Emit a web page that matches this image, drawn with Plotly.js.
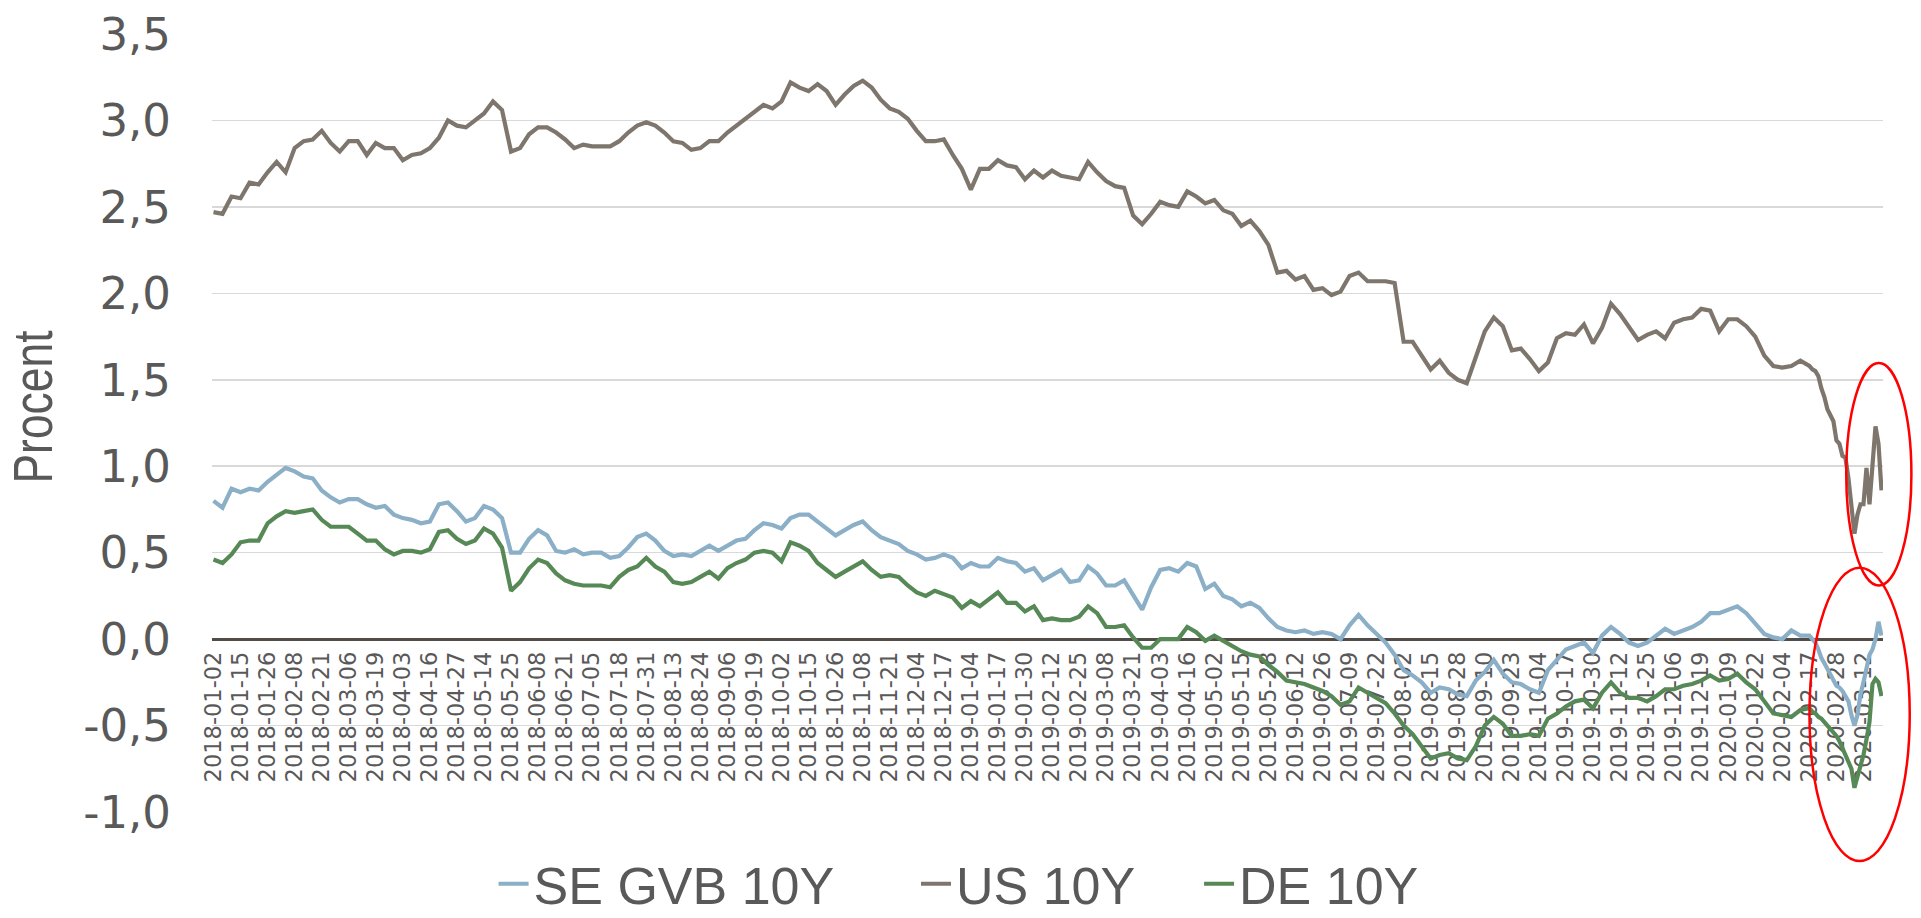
<!DOCTYPE html>
<html>
<head>
<meta charset="utf-8">
<script src="https://cdn.plot.ly/plotly-3.0.1.min.js"></script>
<style>
  html, body { margin: 0; padding: 0; background: #ffffff; }
  #chart { width: 1921px; height: 918px; }
</style>
</head>
<body>
<div id="chart"></div>
<script>
// Trading-day index (Swedish trading days from 2018-01-02) of each reading
const dayIndex = [
  0,3,6,9,12,15,18,21,24,27,30,33,36,39,42,45,48,51,54,57,60,63,66,69,72,75,78,81,84,87,90,
  93,96,99,102,105,108,111,114,117,120,123,126,129,132,135,138,141,144,147,150,153,156,159,162,165,168,171,174,177,180,
  183,186,189,192,195,198,201,204,207,210,213,216,219,222,225,228,231,234,237,240,243,246,249,252,255,258,261,264,267,270,
  273,276,279,282,285,288,291,294,297,300,303,306,309,312,315,318,321,324,327,330,333,336,339,342,345,348,351,354,357,360,
  363,366,369,372,375,378,381,384,387,390,393,396,399,402,405,408,411,414,417,420,423,426,429,432,435,438,441,444,447,450,
  453,456,459,462,465,468,471,474,477,480,483,486,489,492,495,498,501,504,507,510,513,516,519,522,525,528,
  531,532,533,534,535,536,537,538,539,540,541,542,543,544,545,546,547,548,549,550,551,552,553,554,555
];

const seGvb10y = [
  0.80,0.76,0.87,0.85,0.87,0.86,0.91,0.95,0.99,0.97,0.94,0.93,0.86,0.82,0.79,0.81,0.81,0.78,0.76,0.77,0.72,0.70,0.69,0.67,0.68,0.78,0.79,0.74,0.68,0.70,0.77,
  0.75,0.70,0.50,0.50,0.58,0.63,0.60,0.51,0.50,0.52,0.49,0.50,0.50,0.47,0.48,0.53,0.59,0.61,0.57,0.51,0.48,0.49,0.48,0.51,0.54,0.51,0.54,0.57,0.58,0.63,
  0.67,0.66,0.64,0.70,0.72,0.72,0.68,0.64,0.60,0.63,0.66,0.68,0.63,0.59,0.57,0.55,0.51,0.49,0.46,0.47,0.49,0.47,0.41,0.44,0.42,0.42,0.47,0.45,0.44,0.39,
  0.41,0.34,0.37,0.40,0.33,0.34,0.42,0.38,0.31,0.31,0.34,0.26,0.17,0.30,0.40,0.41,0.39,0.44,0.42,0.29,0.32,0.25,0.23,0.19,0.21,0.18,0.12,0.07,0.05,0.04,
  0.05,0.03,0.04,0.03,0.00,0.08,0.14,0.08,0.03,-0.02,-0.09,-0.18,-0.21,-0.25,-0.31,-0.28,-0.29,-0.32,-0.33,-0.24,-0.19,-0.12,-0.20,-0.25,-0.26,-0.29,-0.31,-0.18,-0.12,-0.06,
  -0.04,-0.02,-0.08,0.02,0.07,0.03,-0.02,-0.04,-0.02,0.02,0.06,0.03,0.05,0.07,0.10,0.15,0.15,0.17,0.19,0.15,0.09,0.03,0.01,0.00,0.05,0.02,
  0.02,0.00,-0.02,-0.06,-0.11,-0.14,-0.17,-0.20,-0.23,-0.27,-0.28,-0.30,-0.33,-0.36,-0.44,-0.50,-0.44,-0.32,-0.25,-0.18,-0.09,-0.06,0.00,0.10,0.02
];

const us10y = [
  2.47,2.46,2.56,2.55,2.64,2.63,2.70,2.76,2.70,2.84,2.88,2.89,2.94,2.87,2.82,2.88,2.88,2.80,2.87,2.84,2.84,2.77,2.80,2.81,2.84,2.90,3.00,2.97,2.96,3.00,3.04,
  3.11,3.06,2.82,2.84,2.92,2.96,2.96,2.93,2.89,2.84,2.86,2.85,2.85,2.85,2.88,2.93,2.97,2.99,2.97,2.93,2.88,2.87,2.83,2.84,2.88,2.88,2.93,2.97,3.01,3.05,
  3.09,3.07,3.11,3.22,3.19,3.17,3.21,3.17,3.09,3.15,3.20,3.23,3.19,3.12,3.07,3.05,3.01,2.94,2.88,2.88,2.89,2.80,2.72,2.60,2.72,2.72,2.77,2.74,2.73,2.66,
  2.71,2.67,2.71,2.68,2.67,2.66,2.76,2.70,2.65,2.62,2.61,2.45,2.40,2.46,2.53,2.51,2.50,2.59,2.56,2.52,2.54,2.48,2.46,2.39,2.42,2.36,2.28,2.12,2.13,2.08,
  2.10,2.02,2.03,1.99,2.01,2.10,2.12,2.07,2.07,2.07,2.06,1.72,1.72,1.64,1.56,1.61,1.54,1.50,1.48,1.63,1.78,1.86,1.81,1.67,1.68,1.62,1.55,1.60,1.74,1.77,
  1.76,1.82,1.71,1.80,1.94,1.88,1.81,1.73,1.76,1.78,1.74,1.83,1.85,1.86,1.91,1.90,1.78,1.85,1.85,1.81,1.75,1.64,1.58,1.57,1.58,1.61,
  1.58,1.56,1.55,1.52,1.45,1.40,1.33,1.30,1.26,1.15,1.13,1.06,1.05,0.93,0.78,0.61,0.72,0.78,0.78,0.99,0.78,0.99,1.23,1.13,0.86
];

const de10y = [
  0.46,0.44,0.49,0.56,0.57,0.57,0.67,0.71,0.74,0.73,0.74,0.75,0.69,0.65,0.65,0.65,0.61,0.57,0.57,0.52,0.49,0.51,0.51,0.50,0.52,0.62,0.63,0.58,0.55,0.57,0.64,
  0.61,0.53,0.28,0.33,0.41,0.46,0.44,0.38,0.34,0.32,0.31,0.31,0.31,0.30,0.36,0.40,0.42,0.47,0.42,0.39,0.33,0.32,0.33,0.36,0.39,0.35,0.41,0.44,0.46,0.50,
  0.51,0.50,0.45,0.56,0.54,0.51,0.44,0.40,0.36,0.39,0.42,0.45,0.40,0.36,0.37,0.36,0.31,0.27,0.25,0.28,0.26,0.24,0.18,0.22,0.19,0.23,0.27,0.21,0.21,0.16,
  0.19,0.11,0.12,0.11,0.11,0.13,0.19,0.15,0.07,0.07,0.08,0.01,-0.05,-0.05,0.00,0.00,0.00,0.07,0.04,-0.01,0.02,-0.01,-0.04,-0.07,-0.09,-0.10,-0.15,-0.19,-0.24,-0.25,
  -0.26,-0.28,-0.30,-0.33,-0.38,-0.36,-0.28,-0.31,-0.34,-0.37,-0.43,-0.50,-0.55,-0.62,-0.69,-0.67,-0.66,-0.69,-0.70,-0.62,-0.50,-0.45,-0.49,-0.56,-0.56,-0.55,-0.56,-0.46,-0.43,-0.39,
  -0.36,-0.35,-0.40,-0.31,-0.25,-0.31,-0.34,-0.34,-0.36,-0.33,-0.29,-0.29,-0.27,-0.26,-0.24,-0.21,-0.24,-0.23,-0.20,-0.25,-0.29,-0.36,-0.43,-0.44,-0.45,-0.41,
  -0.40,-0.42,-0.43,-0.45,-0.46,-0.48,-0.50,-0.52,-0.54,-0.56,-0.59,-0.63,-0.66,-0.71,-0.75,-0.86,-0.80,-0.73,-0.67,-0.58,-0.48,-0.26,-0.23,-0.25,-0.33
];

// Category tick labels (every 9th trading day) and their trading-day index
const tickLabels = [
  "2018-01-02","2018-01-15","2018-01-26","2018-02-08","2018-02-21","2018-03-06","2018-03-19","2018-04-03","2018-04-16","2018-04-27",
  "2018-05-14","2018-05-25","2018-06-08","2018-06-21","2018-07-05","2018-07-18","2018-07-31","2018-08-13","2018-08-24","2018-09-06",
  "2018-09-19","2018-10-02","2018-10-15","2018-10-26","2018-11-08","2018-11-21","2018-12-04","2018-12-17","2019-01-04","2019-01-17",
  "2019-01-30","2019-02-12","2019-02-25","2019-03-08","2019-03-21","2019-04-03","2019-04-16","2019-05-02","2019-05-15","2019-05-28",
  "2019-06-12","2019-06-26","2019-07-09","2019-07-22","2019-08-02","2019-08-15","2019-08-28","2019-09-10","2019-09-23","2019-10-04",
  "2019-10-17","2019-10-30","2019-11-12","2019-11-25","2019-12-06","2019-12-19","2020-01-09","2020-01-22","2020-02-04","2020-02-17",
  "2020-02-28","2020-03-12"
];
const tickIndex = [
  0,9,18,27,36,45,54,63,72,81,90,99,108,117,126,135,144,153,162,171,180,189,198,207,216,225,234,243,252,261,
  270,279,288,297,306,315,324,333,342,351,360,369,378,387,396,405,414,423,432,441,450,459,468,477,486,495,504,513,522,531,
  540,549
];

// Value axis ticks (Swedish decimal comma, hyphen minus)
const yTickValues = [-1.0, -0.5, 0.0, 0.5, 1.0, 1.5, 2.0, 2.5, 3.0, 3.5];
const yTickLabels = ["-1,0", "-0,5", "0,0", "0,5", "1,0", "1,5", "2,0", "2,5", "3,0", "3,5"];

const seriesNames = ["SE GVB 10Y", "US 10Y", "DE 10Y"];
const seriesColors = ["#8AAFC6", "#7E766D", "#578957"];
const seriesValues = [seGvb10y, us10y, de10y];
const legendIds = ["legend", "legend2", "legend3"];

const traces = seriesNames.map((name, i) => ({
  type: "scatter",
  mode: "lines",
  name: name,
  x: dayIndex,
  y: seriesValues[i],
  line: { color: seriesColors[i], width: 4.2 },
  legend: legendIds[i],
  hoverinfo: "skip"
}));

const textColor = "#595959";
const legendFont = { family: "Liberation Sans, Arial, sans-serif", size: 52, color: textColor };
function legendAt(xPaper) {
  return {
    orientation: "h", x: xPaper, xanchor: "left", y: -0.0925, yanchor: "middle",
    font: legendFont, bgcolor: "rgba(0,0,0,0)", borderwidth: 0
  };
}

const layout = {
  width: 1921,
  height: 918,
  paper_bgcolor: "#ffffff",
  plot_bgcolor: "#ffffff",
  margin: { l: 212, r: 38, t: 34, b: 106, pad: 0, autoexpand: false },
  showlegend: true,
  legend: legendAt(0.1685),
  legend2: legendAt(0.4213),
  legend3: legendAt(0.5907),
  xaxis: {
    range: [-0.5, 555.5],
    anchor: "free",
    position: 1 / 4.5,
    tickmode: "array",
    tickvals: tickIndex,
    ticktext: tickLabels,
    tickangle: -90,
    tickfont: { family: "DejaVu Sans, sans-serif", size: 22.5, color: textColor },
    ticks: "",
    ticklabelstandoff: 7,
    showgrid: false,
    zeroline: false,
    showline: false,
    layer: "below traces",
    fixedrange: true
  },
  yaxis: {
    range: [-1.0, 3.5],
    tickmode: "array",
    tickvals: yTickValues,
    ticktext: yTickLabels,
    tickfont: { family: "DejaVu Sans, sans-serif", size: 45, color: textColor },
    ticks: "",
    ticklabelstandoff: 40,
    showgrid: true,
    gridcolor: "#D9D9D9",
    gridwidth: 1.5,
    zeroline: true,
    zerolinecolor: "#524C48",
    zerolinewidth: 3,
    showline: false,
    layer: "below traces",
    title: {
      text: "Procent",
      font: { family: "Liberation Sans, Arial, sans-serif", size: 56, color: textColor },
      standoff: 12
    },
    fixedrange: true
  },
  shapes: [
    { type: "circle", xref: "paper", yref: "paper", x0: 0.978, x1: 1.017, y0: 0.291, y1: 0.577,
      line: { color: "#FF0000", width: 2.5 }, fillcolor: "rgba(0,0,0,0)", layer: "above" },
    { type: "circle", xref: "paper", yref: "paper", x0: 0.956, x1: 1.016, y0: -0.063, y1: 0.314,
      line: { color: "#FF0000", width: 2.5 }, fillcolor: "rgba(0,0,0,0)", layer: "above" }
  ]
};

Plotly.newPlot("chart", traces, layout, { displayModeBar: false, staticPlot: true }).then(() => {
  // the reference's axis title is drawn in a narrowed face, a little above centre
  const t = document.querySelector("#chart .ytitle");
  if (t) {
    t.setAttribute("textLength", "153");
    t.setAttribute("lengthAdjust", "spacingAndGlyphs");
    t.setAttribute("dx", "16");
  }
});
</script>
</body>
</html>
